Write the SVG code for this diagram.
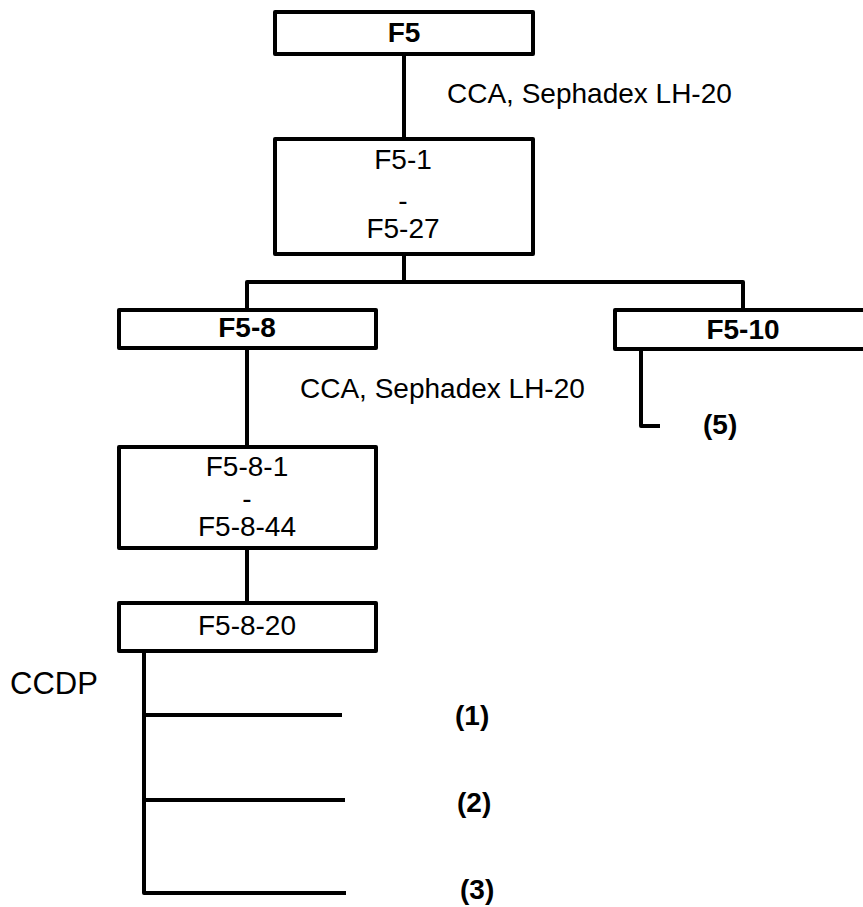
<svg xmlns="http://www.w3.org/2000/svg" width="863" height="907" viewBox="0 0 863 907">
<style>
.box{fill:#fff;stroke:#000;stroke-width:4;stroke-linejoin:round}
.ln{fill:none;stroke:#000;stroke-width:4;stroke-linejoin:round}
text{font-family:"Liberation Sans",Arial,sans-serif;font-size:28px;fill:#000}
.b{font-weight:bold}
.c{text-anchor:middle}
</style>
<rect width="863" height="907" fill="#fff"/>
<g id="connectors">
<path class="ln" d="M404 56V139"/>
<path class="ln" d="M404 254V282H247V310M404 282H743V310"/>
<path class="ln" d="M247 348V447"/>
<path class="ln" d="M247 548V603"/>
<path class="ln" d="M641 349V426H660"/>
<path class="ln" d="M144 651V893H346M144 715H342M144 800H345"/>
</g>
<g id="n-f5"><rect class="box" x="275" y="12" width="258" height="42"/><text class="b c" x="404" y="42">F5</text></g>
<text x="447" y="103">CCA, Sephadex LH-20</text>
<g id="n-f5-1"><rect class="box" x="275" y="139" width="258" height="115"/>
<text class="c" x="403" y="169">F5-1</text><text class="c" x="403" y="210">-</text><text class="c" x="403" y="238">F5-27</text></g>
<g id="n-f5-8"><rect class="box" x="119" y="310" width="257" height="38"/><text class="b c" x="247" y="337">F5-8</text></g>
<g id="n-f5-10"><rect class="box" x="615" y="310" width="262" height="39"/><text class="b c" x="743" y="339">F5-10</text></g>
<text x="300" y="398">CCA, Sephadex LH-20</text>
<g id="n-5"><text class="b" x="703" y="434">(5)</text></g>
<g id="n-f5-8-1"><rect class="box" x="119" y="447" width="257" height="101"/>
<text class="c" x="247" y="476">F5-8-1</text><text class="c" x="247" y="508">-</text><text class="c" x="247" y="536">F5-8-44</text></g>
<g id="n-f5-8-20"><rect class="box" x="119" y="603" width="257" height="48"/><text class="c" x="247" y="635">F5-8-20</text></g>
<text x="10" y="694" style="font-size:31px">CCDP</text>
<g id="n-1"><text class="b" x="455" y="725">(1)</text></g>
<g id="n-2"><text class="b" x="457" y="812">(2)</text></g>
<g id="n-3"><text class="b" x="460" y="899">(3)</text></g>
</svg>
